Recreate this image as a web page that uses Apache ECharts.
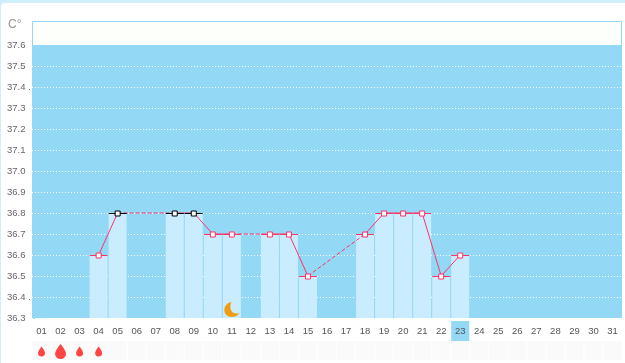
<!DOCTYPE html>
<html>
<head>
<meta charset="utf-8">
<style>
  html, body { margin: 0; padding: 0; background: #cfeffd; }
  #main { position: absolute; left: 1px; top: 3px; width: 624px; height: 360px; background: #fff; border-radius: 4px 0 0 0; }
  #chart { position: absolute; left: 0; top: 0; width: 625px; height: 363px; }
</style>
<script src="https://cdn.jsdelivr.net/npm/echarts@6/dist/echarts.min.js"></script>
</head>
<body>
<div id="main"></div>
<div id="chart"></div>
<script>
const days = ['01','02','03','04','05','06','07','08','09','10','11','12','13','14','15','16','17','18','19','20','21','22','23','24','25','26','27','28','29','30','31'];
const temps = [null,null,null,36.6,36.8,null,null,36.8,36.8,36.7,36.7,null,36.7,36.7,36.5,null,null,36.7,36.8,36.8,36.8,36.5,36.6,null,null,null,null,null,null,null,null];
const blackDays = ['05','08','09'];
const flowLevels = [1,2,1,1];
const moonDays = ['11'];
const moonTemps = [36.34];
const todayLabel = '23';
const gapSpans = [['05','08'],['11','13'],['15','18']];
const yTicks = {'36.3':'36.3','36.4':'36.4 .','36.5':'36.5','36.6':'36.6','36.7':'36.7','36.8':'36.8','36.9':'36.9','37.0':'37.0','37.1':'37.1','37.2':'37.2','37.3':'37.3','37.4':'37.4 .','37.5':'37.5','37.6':'37.6'};

const PINK = '#ff3366';
const BLUE = '#93d8f5';
const FONT = '"Liberation Sans", sans-serif';
const DROP = 'path://M5 0C5 0 0 6.5 0 9.5a5 5 0 0 0 10 0C10 6.5 5 0 5 0z';
const MOON = 'path://M7 0C2 1 0 5 0 8c0 4 3 7 7 7 3 0 6-1 8-4-1 .5-2 .5-3 .5C8 11.500 6 8 6 5 6 3 6.500 1.500 7 0z';

const known = days.map((d, i) => [d, temps[i]]).filter((p) => p[1] !== null);
const isBlack = (d) => blackDays.includes(d);
const gapSeries = gapSpans.map(([a, b]) => ({
  type: 'line',
  data: days.map((d, i) => (d === a || d === b ? temps[i] : null)),
  connectNulls: true,
  symbol: 'none',
  lineStyle: { color: PINK, width: 1, type: [4, 2] },
  z: 3,
  silent: true
}));

const chart = echarts.init(document.getElementById('chart'), null, { renderer: 'canvas' });
chart.setOption({
  animation: false,
  grid: [
    { left: 32, top: 45, width: 590, height: 273, show: true, backgroundColor: BLUE, borderWidth: 0 },
    { left: 32, top: 341, width: 590, height: 19, show: false }
  ],
  xAxis: [
    {
      type: 'category',
      data: days,
      gridIndex: 0,
      axisLine: { show: false },
      axisTick: { show: false },
      splitLine: { show: false },
      axisLabel: {
        interval: 0,
        margin: 3,
        color: '#555',
        fontFamily: FONT,
        fontSize: 9.5,
        formatter: (v) => (v === todayLabel ? `{today|${v}}` : `{day|${v}}`),
        rich: {
          day: { height: 20, lineHeight: 20, width: 18, align: 'center', color: '#555', fontSize: 9.5, fontFamily: FONT },
          today: { height: 20, lineHeight: 20, width: 18, align: 'center', color: '#555', fontSize: 9.5, fontFamily: FONT, backgroundColor: BLUE }
        }
      }
    },
    { type: 'category', data: days, gridIndex: 1, show: false }
  ],
  yAxis: [
    {
      type: 'value',
      gridIndex: 0,
      min: 36.3,
      max: 37.6,
      interval: 0.1,
      axisLine: { show: false },
      axisTick: { show: false },
      axisLabel: {
        margin: 25,
        align: 'left',
        color: '#666',
        fontFamily: FONT,
        fontSize: 9.5,
        showMaxLabel: true,
        formatter: (v) => yTicks[v.toFixed(1)]
      },
      splitLine: { show: true, showMaxLine: false, lineStyle: { color: '#fff', width: 1, type: [1, 2] } }
    },
    { type: 'value', gridIndex: 1, min: 0, max: 1, show: false }
  ],
  series: [
    {
      type: 'bar',
      data: temps,
      barWidth: 18,
      itemStyle: { color: '#c9edfe' },
      z: 2,
      silent: true
    },
    {
      type: 'line',
      data: temps,
      connectNulls: false,
      symbol: 'none',
      lineStyle: { color: PINK, width: 1 },
      z: 4,
      silent: true
    },
    ...gapSeries,
    {
      // cap drawn along the top of each bar
      type: 'scatter',
      data: known.map(([d, t]) => ({ value: [d, t], itemStyle: { color: isBlack(d) ? '#000' : PINK, opacity: 1 } })),
      symbol: 'rect',
      symbolSize: [18, 1],
      symbolOffset: [0, 0.5],
      z: 5,
      silent: true
    },
    {
      type: 'scatter',
      data: known.map(([d, t]) => ({ value: [d, t], itemStyle: { color: '#fff', borderColor: isBlack(d) ? '#000' : PINK, borderWidth: 1, opacity: 1 } })),
      symbol: 'rect',
      symbolSize: 5,
      symbolOffset: [0, 0.5],
      z: 6,
      silent: true
    },
    {
      type: 'scatter',
      data: moonDays.map((d, i) => [d, moonTemps[i]]),
      symbol: MOON,
      symbolSize: [15, 15],
      itemStyle: { color: '#f39c12', opacity: 1 },
      z: 6,
      silent: true
    },
    {
      type: 'bar',
      xAxisIndex: 1,
      yAxisIndex: 1,
      data: days.map(() => 1),
      barWidth: 18,
      itemStyle: { color: '#fafafa' },
      silent: true
    },
    {
      type: 'scatter',
      xAxisIndex: 1,
      yAxisIndex: 1,
      data: flowLevels.map((lvl, i) => ({ value: [days[i], 0.45], symbolSize: lvl > 1 ? [11, 15] : [7, 10] })),
      symbol: DROP,
      itemStyle: { color: '#ff4444', opacity: 1 },
      z: 3,
      silent: true
    }
  ],
  graphic: [
    { type: 'rect', shape: { x: 32.5, y: 21.5, width: 589, height: 24 }, style: { fill: '#fdfffb', stroke: BLUE, lineWidth: 1 }, silent: true },
    { type: 'rect', shape: { x: 32, y: 45, width: 4, height: 274 }, style: { fill: BLUE }, silent: true },
    { type: 'text', left: 8, top: 19, style: { text: 'C°', fill: '#9a9388', font: '12px ' + FONT }, silent: true }
  ]
});
</script>
</body>
</html>
